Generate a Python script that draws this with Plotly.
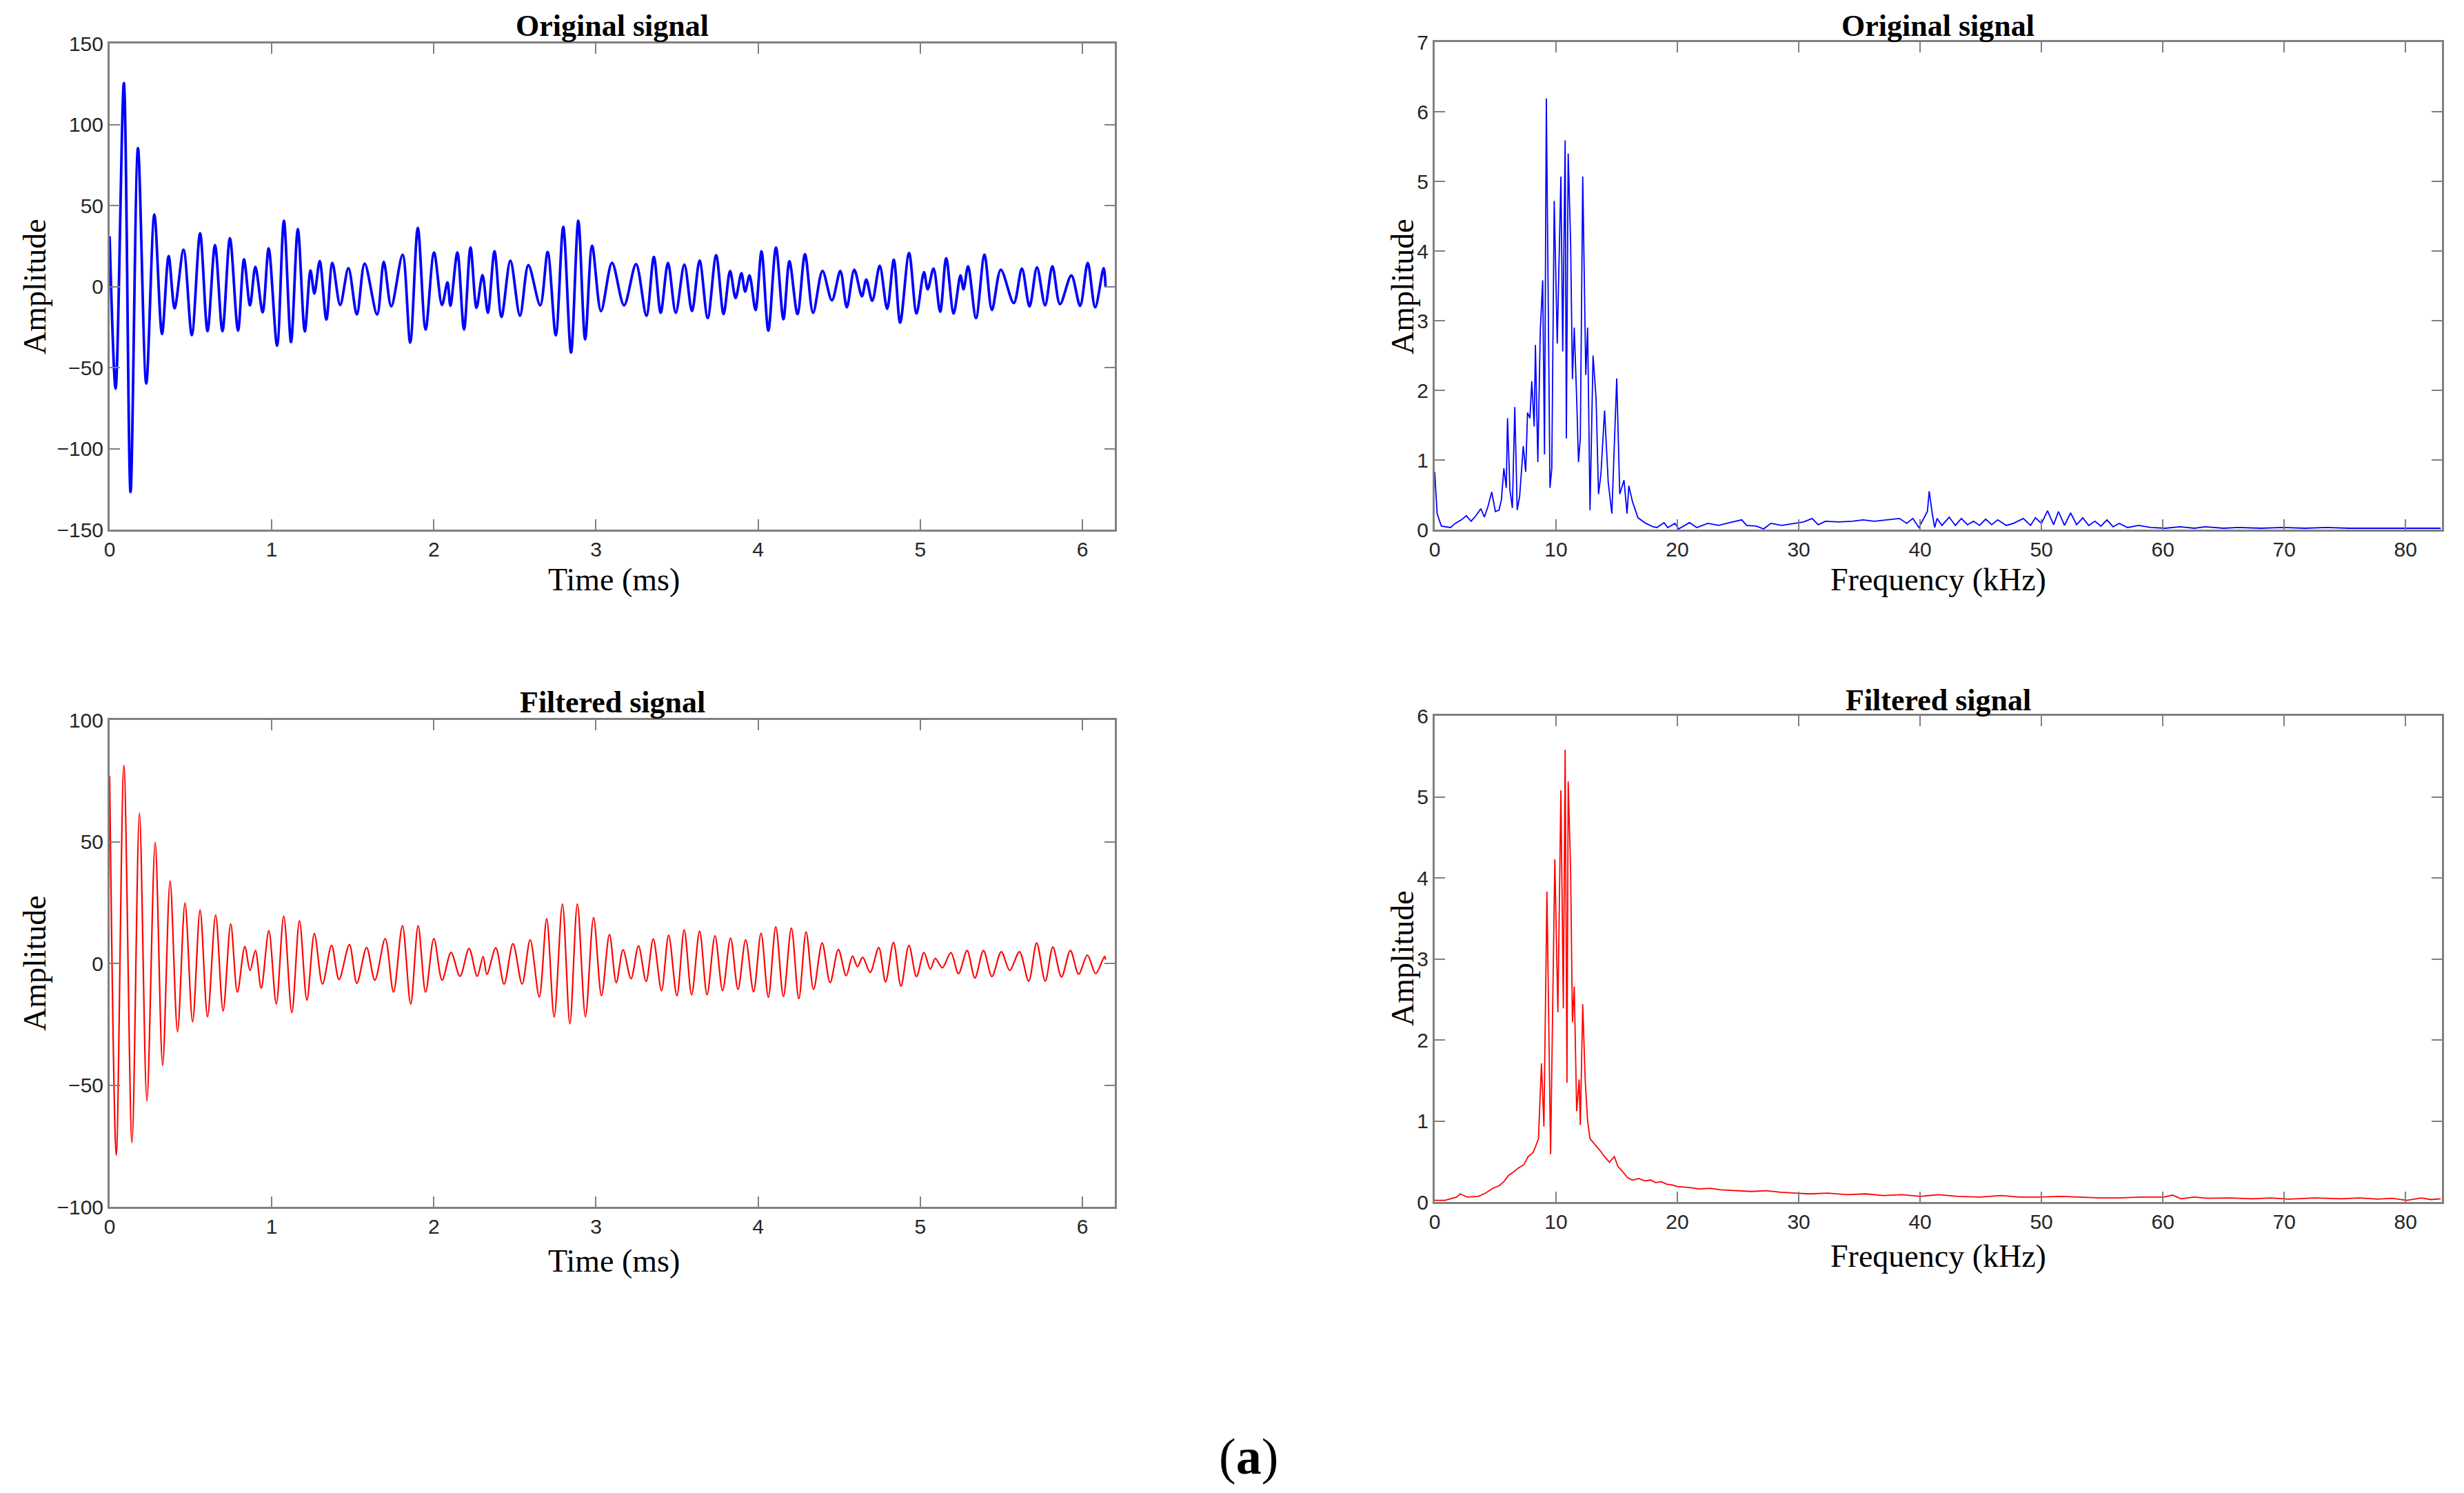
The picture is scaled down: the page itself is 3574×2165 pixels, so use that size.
import plotly.graph_objects as go

# time-domain signals, read as successive peaks/troughs (t in ms)
T_ORIG = [0, 0.037, 0.088, 0.129, 0.175, 0.226, 0.276, 0.323, 0.364, 0.401,
          0.456, 0.507, 0.558, 0.604, 0.650, 0.696, 0.742, 0.792, 0.829, 0.866,
          0.899, 0.944, 0.981, 1.033, 1.075, 1.119, 1.161, 1.204, 1.239, 1.263,
          1.296, 1.337, 1.374, 1.422, 1.473, 1.525, 1.573, 1.650, 1.691, 1.737,
          1.807, 1.854, 1.901, 1.949, 2.001, 2.050, 2.084, 2.102, 2.145, 2.186,
          2.226, 2.263, 2.300, 2.333, 2.374, 2.417, 2.472, 2.531, 2.583, 2.656,
          2.702, 2.752, 2.798, 2.846, 2.891, 2.933, 2.976, 3.031, 3.099, 3.173,
          3.247, 3.311, 3.357, 3.399, 3.444, 3.492, 3.545, 3.592, 3.639, 3.689,
          3.741, 3.787, 3.827, 3.861, 3.897, 3.920, 3.947, 3.984, 4.021, 4.063,
          4.110, 4.156, 4.193, 4.243, 4.289, 4.339, 4.397, 4.455, 4.507, 4.547,
          4.593, 4.640, 4.667, 4.704, 4.750, 4.796, 4.837, 4.876, 4.931, 4.977,
          5.023, 5.046, 5.082, 5.123, 5.160, 5.206, 5.248, 5.267, 5.295, 5.344,
          5.396, 5.442, 5.497, 5.577, 5.627, 5.674, 5.720, 5.770, 5.815, 5.862,
          5.932, 5.986, 6.033, 6.079, 6.131, 6.143]
V_ORIG = [31, -63, 125.6, -126.8, 85.4, -59.8, 44.4, -29.3, 18.8, -13.4,
          22.7, -30.0, 32.9, -27.6, 25.6, -27.6, 29.8, -27.2, 16.7, -11.6,
          12.2, -15.9, 23.5, -36.5, 40.6, -34.3, 35.5, -27.7, 9.9, -4.3,
          15.7, -20.4, 14.6, -11.4, 11.3, -17.3, 14.2, -17.3, 15.3, -12.3,
          19.6, -34.6, 36.2, -26.5, 21.0, -11.4, 2.6, -11.8, 21.0, -26.5,
          24.1, -13.1, 7.1, -16.2, 21.7, -18.7, 16.0, -18.0, 13.2, -11.6,
          21.3, -30.1, 36.9, -40.7, 40.6, -32.6, 25.2, -15.2, 14.6, -11.6,
          13.9, -18.0, 18.2, -16.2, 14.6, -16.2, 13.6, -15.2, 16.0, -19.4,
          19.3, -17.0, 9.6, -7.1, 8.2, -3.1, 6.8, -14.5, 21.7, -27.2,
          24.1, -20.1, 15.6, -17.0, 19.9, -16.2, 9.6, -8.5, 9.6, -12.8,
          10.4, -6.0, 4.3, -8.8, 12.8, -13.8, 16.5, -22.3, 20.7, -16.6,
          8.9, -1.7, 11.1, -15.6, 17.4, -16.6, 6.8, -1.7, 12.5, -19.4,
          19.6, -14.5, 10.4, -10.2, 11.1, -12.3, 11.8, -11.6, 12.5, -10.9,
          6.8, -11.9, 14.6, -12.8, 11.3, -0.3]

T_FILT = [0, 0.041, 0.088, 0.138, 0.184, 0.230, 0.281, 0.327, 0.373, 0.419,
          0.465, 0.512, 0.558, 0.604, 0.654, 0.700, 0.747, 0.788, 0.834, 0.866,
          0.899, 0.935, 0.982, 1.028, 1.074, 1.124, 1.171, 1.217, 1.263, 1.313,
          1.369, 1.415, 1.479, 1.525, 1.585, 1.636, 1.700, 1.751, 1.806, 1.857,
          1.903, 1.949, 2.000, 2.051, 2.106, 2.161, 2.217, 2.267, 2.304, 2.327,
          2.382, 2.433, 2.488, 2.544, 2.594, 2.650, 2.696, 2.742, 2.793, 2.839,
          2.885, 2.935, 2.985, 3.034, 3.083, 3.125, 3.167, 3.216, 3.262, 3.309,
          3.353, 3.404, 3.448, 3.499, 3.544, 3.590, 3.639, 3.685, 3.734, 3.781,
          3.830, 3.876, 3.923, 3.972, 4.018, 4.063, 4.109, 4.156, 4.205, 4.251,
          4.296, 4.342, 4.395, 4.444, 4.495, 4.543, 4.582, 4.613, 4.645, 4.691,
          4.744, 4.786, 4.835, 4.881, 4.930, 4.977, 5.023, 5.062, 5.093, 5.136,
          5.189, 5.236, 5.289, 5.337, 5.390, 5.442, 5.500, 5.552, 5.612, 5.669,
          5.718, 5.771, 5.818, 5.871, 5.926, 5.977, 6.031, 6.082, 6.137, 6.143]
V_FILT = [76.9, -78.8, 81.3, -73.6, 61.8, -56.5, 49.7, -41.9, 33.8, -28.1,
          24.8, -24.0, 21.9, -21.9, 19.9, -19.6, 16.2, -11.8, 6.9, -2.9,
          5.3, -10.2, 13.4, -16.7, 19.4, -20.2, 17.5, -15.1, 12.3, -8.5,
          7.4, -6.6, 7.7, -8.2, 6.5, -6.9, 10.2, -11.8, 15.5, -16.7,
          15.5, -11.8, 10.2, -6.9, 4.5, -5.3, 6.1, -5.3, 2.8, -4.5,
          6.4, -8.5, 8.1, -8.5, 9.7, -13.8, 18.3, -22.0, 24.4, -24.8,
          24.4, -21.9, 18.8, -13.3, 11.9, -7.9, 5.6, -6.3, 7.2, -7.4,
          10.0, -11.2, 11.6, -13.3, 13.8, -12.9, 13.3, -12.9, 11.4, -11.2,
          10.4, -10.7, 9.7, -11.7, 12.4, -13.9, 15.0, -13.6, 14.5, -14.5,
          12.9, -10.7, 8.4, -7.9, 5.7, -5.1, 3.0, -1.3, 2.5, -3.7,
          6.5, -7.6, 8.6, -9.3, 7.4, -5.4, 4.4, -2.3, 2.0, -1.8,
          4.4, -4.2, 5.3, -6.0, 5.3, -5.4, 4.8, -2.9, 4.8, -7.3,
          8.4, -7.3, 6.7, -5.6, 5.3, -4.4, 3.4, -4.2, 2.9, 1.5]

# amplitude spectra (kHz)
F_ORIG = [0, 0.2, 0.55, 1.3, 1.7, 2.2, 2.6, 3.0, 3.4, 3.8, 4.1, 4.4, 4.7, 5.0,
          5.3, 5.5, 5.7, 5.9, 6.0, 6.2, 6.4, 6.6, 6.8, 7.0, 7.3, 7.5, 7.65,
          7.85, 8.0, 8.2, 8.3, 8.5, 8.7, 8.9, 9.05, 9.2, 9.5, 9.65, 9.85,
          10.1, 10.4, 10.55, 10.75, 10.85, 11.0, 11.2, 11.35, 11.5, 11.7,
          11.85, 12.0, 12.2, 12.45, 12.6, 12.8, 13.05, 13.3, 13.5, 13.7, 14.0,
          14.3, 14.6, 15.0, 15.25, 15.6, 15.85, 16.0, 16.3, 16.75, 17.4, 18.0,
          18.3, 18.9, 19.2, 19.8, 20.1, 21.0, 21.6, 22.5, 23.4, 24.3, 25.3,
          25.7, 26.5, 27.1, 27.7, 28.6, 29.8, 30.4, 31.1, 31.6, 32.2, 33.3,
          34.4, 35.3, 36.2, 37.4, 38.3, 38.9, 39.4, 39.9, 40.3, 40.6, 40.75,
          41.0, 41.2, 41.4, 41.8, 42.4, 42.9, 43.4, 43.9, 44.4, 44.9, 45.4,
          45.9, 46.4, 47.1, 47.7, 48.5, 49.1, 49.5, 50.0, 50.5, 51.0, 51.4,
          51.9, 52.4, 52.9, 53.4, 53.9, 54.4, 54.9, 55.4, 55.9, 56.4, 57.1,
          58.0, 59.0, 60.2, 61.4, 62.6, 63.5, 65.0, 66.2, 68.1, 69.9, 71.7,
          73.5, 75.3, 77.2, 79.0, 80.8, 82.9]
A_ORIG = [0.83, 0.23, 0.05, 0.03, 0.09, 0.14, 0.2, 0.12, 0.2, 0.3, 0.18, 0.34,
          0.54, 0.26, 0.28, 0.43, 0.88, 0.6, 1.6, 0.57, 0.31, 1.76, 0.28, 0.48,
          1.2, 0.83, 1.68, 1.6, 2.13, 1.48, 2.65, 0.97, 2.85, 3.58, 1.08, 6.19,
          0.6, 0.88, 4.72, 2.67, 5.07, 2.56, 5.59, 1.31, 5.4, 4.13, 2.16, 2.9,
          1.88, 0.97, 1.31, 5.07, 2.22, 2.9, 0.28, 2.5, 1.88, 0.51, 0.8, 1.71,
          0.68, 0.23, 2.17, 0.51, 0.71, 0.23, 0.63, 0.4, 0.17, 0.09, 0.04,
          0.03, 0.1, 0.03, 0.09, 0.01, 0.1, 0.03, 0.09, 0.06, 0.1, 0.14,
          0.06, 0.05, 0.01, 0.09, 0.06, 0.09, 0.11, 0.16, 0.07, 0.12, 0.11,
          0.12, 0.14, 0.12, 0.14, 0.16, 0.09, 0.16, 0.03, 0.17, 0.26, 0.55,
          0.23, 0.03, 0.16, 0.06, 0.18, 0.06, 0.16, 0.07, 0.12, 0.06, 0.15,
          0.07, 0.14, 0.06, 0.09, 0.16, 0.06, 0.17, 0.09, 0.27, 0.07, 0.26,
          0.06, 0.24, 0.07, 0.17, 0.06, 0.12, 0.05, 0.14, 0.04, 0.09, 0.03,
          0.06, 0.03, 0.02, 0.04, 0.02, 0.04, 0.02, 0.03, 0.02, 0.03, 0.02,
          0.03, 0.02, 0.02, 0.02, 0.02, 0.02]

F_FILT = [0, 0.85, 1.8, 2.1, 2.7, 3.6, 4.2, 4.8, 5.3, 5.7, 6.1, 6.5, 6.9, 7.35,
          7.7, 8.1, 8.3, 8.55, 8.8, 9.0, 9.25, 9.55, 9.9, 10.15, 10.4, 10.6,
          10.75, 10.9, 11.0, 11.2, 11.35, 11.5, 11.7, 11.9, 12.0, 12.2, 12.4,
          12.6, 12.8, 13.2, 13.6, 14.0, 14.4, 14.8, 15.1, 15.4, 15.9, 16.3,
          16.8, 17.3, 17.8, 18.2, 18.7, 19.1, 19.6, 20.0, 20.9, 21.8, 22.7,
          23.6, 24.8, 26.1, 27.3, 28.5, 29.7, 30.9, 32.4, 34.0, 35.5, 37.0,
          38.5, 40.0, 41.5, 43.1, 44.9, 46.7, 48.2, 49.8, 51.6, 53.4, 54.9,
          56.4, 58.2, 60.1, 60.8, 61.5, 62.6, 63.7, 65.5, 67.4, 68.9, 70.4,
          72.5, 74.7, 76.2, 77.7, 78.9, 80.1, 81.3, 82.1, 82.9]
A_FILT = [0.02, 0.02, 0.06, 0.1, 0.06, 0.07, 0.11, 0.17, 0.2, 0.25, 0.33, 0.37,
          0.42, 0.46, 0.56, 0.61, 0.68, 0.78, 1.71, 0.93, 3.83, 0.59, 4.23,
          2.34, 5.08, 2.39, 5.58, 1.47, 5.19, 4.1, 2.22, 2.66, 1.12, 1.51,
          0.95, 2.44, 1.51, 1.0, 0.78, 0.71, 0.64, 0.56, 0.49, 0.56, 0.44,
          0.39, 0.3, 0.27, 0.29, 0.26, 0.27, 0.24, 0.25, 0.22, 0.21, 0.19,
          0.18, 0.16, 0.17, 0.15, 0.14, 0.13, 0.14, 0.12, 0.11, 0.1, 0.11,
          0.09, 0.1, 0.08, 0.09, 0.07, 0.09, 0.07, 0.06, 0.08, 0.06, 0.06,
          0.07, 0.06, 0.05, 0.05, 0.06, 0.06, 0.085, 0.04, 0.06, 0.045, 0.05,
          0.04, 0.05, 0.035, 0.05, 0.04, 0.05, 0.035, 0.045, 0.02, 0.05,
          0.03, 0.04]

BLUE = '#0000ff'
RED = '#ff0000'
AX_GREY = '#808080'
TICK_FONT = dict(family='Liberation Sans', size=30, color='#262626')
SERIF = 'Liberation Serif'

# page is 3574x2165; the html body adds an 8px margin, so the figure is
# drawn 16px smaller and every pixel position is shifted by that margin
PAGE_W, PAGE_H = 3574, 2165
BODY = 8
W, H = PAGE_W - 2 * BODY, PAGE_H - 2 * BODY


def px_x(p):
    return (p - BODY) / W


def px_y(p):
    return 1 - (p - BODY) / H


fig = go.Figure()
fig.add_trace(go.Scatter(x=T_ORIG, y=V_ORIG, mode='lines', line=dict(color=BLUE, width=3.8, shape='spline', smoothing=0.9),
                         xaxis='x', yaxis='y', showlegend=False))
fig.add_trace(go.Scatter(x=F_ORIG, y=A_ORIG, mode='lines', line=dict(color=BLUE, width=1.8),
                         xaxis='x2', yaxis='y2', showlegend=False))
fig.add_trace(go.Scatter(x=T_FILT, y=V_FILT, mode='lines', line=dict(color=RED, width=2.2, shape='spline', smoothing=0.9),
                         xaxis='x3', yaxis='y3', showlegend=False))
fig.add_trace(go.Scatter(x=F_FILT, y=A_FILT, mode='lines', line=dict(color=RED, width=1.8),
                         xaxis='x4', yaxis='y4', showlegend=False))

common = dict(showline=True, linecolor=AX_GREY, linewidth=3, mirror='ticks', ticks='inside',
              ticklen=15, tickwidth=2, tickcolor=AX_GREY, showgrid=False, zeroline=False,
              tickfont=TICK_FONT, fixedrange=True, automargin=False)

left_x = [px_x(159), px_x(1617)]
right_x = [px_x(2081), px_x(3542)]

fig.update_layout(
    template='none',
    width=W, height=H, margin=dict(l=0, r=0, t=0, b=0, pad=0),
    paper_bgcolor='white', plot_bgcolor='white',
    xaxis=dict(domain=left_x, range=[0, 6.2], dtick=1, anchor='y', **common),
    yaxis=dict(domain=[px_y(768), px_y(63)], range=[-150, 150], dtick=50, anchor='x', **common),
    xaxis2=dict(domain=right_x, range=[0, 83], dtick=10, anchor='y2', **common),
    yaxis2=dict(domain=[px_y(768), px_y(61)], range=[0, 7], dtick=1, anchor='x2', **common),
    xaxis3=dict(domain=left_x, range=[0, 6.2], dtick=1, anchor='y3', **common),
    yaxis3=dict(domain=[px_y(1750), px_y(1044)], range=[-100, 100], dtick=50, anchor='x3', **common),
    xaxis4=dict(domain=right_x, range=[0, 83], dtick=10, anchor='y4', **common),
    yaxis4=dict(domain=[px_y(1743), px_y(1038)], range=[0, 6], dtick=1, anchor='x4', **common),
)

# panel titles, axis titles and the (a) label
labels = [
    ('<b>Original signal</b>', 888, 37, 0, 44),
    ('<b>Original signal</b>', 2811, 37, 0, 44),
    ('<b>Filtered signal</b>', 888, 1019, 0, 44),
    ('<b>Filtered signal</b>', 2811, 1015, 0, 44),
    ('Time (ms)', 890, 841, 0, 46),
    ('Frequency (kHz)', 2811, 841, 0, 46),
    ('Time (ms)', 890, 1828, 0, 46),
    ('Frequency (kHz)', 2811, 1821, 0, 46),
    ('Amplitude', 50, 416, -90, 46),
    ('Amplitude', 2034, 416, -90, 46),
    ('Amplitude', 50, 1397, -90, 46),
    ('Amplitude', 2034, 1390, -90, 46),
    ('(<b>a</b>)', 1811, 2112, 0, 74),
]
for text, px, py, ang, size in labels:
    fig.add_annotation(text=text, x=px_x(px), y=px_y(py), xref='paper', yref='paper',
                       xanchor='center', yanchor='middle', showarrow=False, textangle=ang,
                       font=dict(family=SERIF, size=size, color='black'))

fig.write_html("out.html")
